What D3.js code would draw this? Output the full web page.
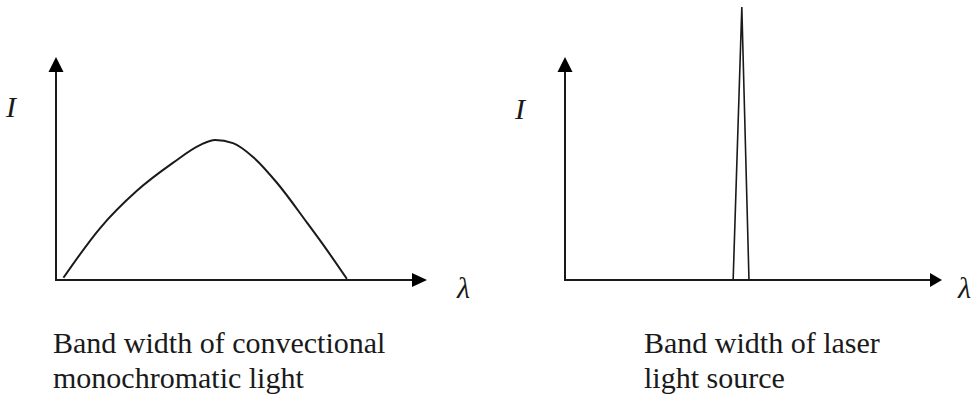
<!DOCTYPE html>
<html><head><meta charset="utf-8">
<script src="https://cdn.jsdelivr.net/npm/d3@7"></script>
<style>html,body{margin:0;padding:0;background:#fff;}svg{display:block;}</style>
</head><body>
<svg id="c" width="980" height="395"></svg>
<script>
// Left panel: conventional monochromatic light (relative wavelength, relative intensity)
const broadLambda = [2, 11.9, 21.8, 31.5, 38.8, 42.9, 47.7, 53.1, 59.6, 67.7, 73.0, 78.4];
const broadIntensity = [1, 23.3, 40.0, 52.5, 60.5, 62.8, 61.4, 55.2, 43.5, 25.6, 13.5, 0.5];
// Right panel: laser line (narrow spike)
const laserLambda = [44.6, 46.9, 48.8];
const laserIntensity = [0, 122.4, 0];
const captionsLeft = ["Band width of convectional", "monochromatic light"];
const captionsRight = ["Band width of laser", "light source"];
const yLabel = "I";
const xLabel = "\u03bb";

const svg = d3.select("#c");
const ink = "#1a1a1a";
const serif = "Liberation Serif";

function panel(opt) {
  const x = d3.scaleLinear().domain([0, 100]).range([opt.x0, opt.x1]);
  const y = d3.scaleLinear().domain([0, 100]).range([280, 57]);
  const g = svg.append("g");
  g.append("line").attr("x1", x(0)).attr("x2", x(100) - opt.xArrow + 2)
    .attr("y1", y(0)).attr("y2", y(0)).attr("stroke", ink).attr("stroke-width", 2);
  g.append("line").attr("x1", x(0)).attr("x2", x(0))
    .attr("y1", y(0) + 1).attr("y2", y(100) + 13).attr("stroke", ink).attr("stroke-width", 2);
  g.append("path").attr("fill", "#000")
    .attr("d", `M${x(100)},${y(0)} L${x(100) - opt.xArrow},${y(0) - 7} L${x(100) - opt.xArrow},${y(0) + 7} Z`);
  g.append("path").attr("fill", "#000")
    .attr("d", `M${x(0)},${y(100)} L${x(0) - 7.5},${y(100) + 15} L${x(0) + 7.5},${y(100) + 15} Z`);
  const pts = opt.lx.map((d, i) => [d, opt.ly[i]]);
  const line = d3.line().x(d => x(d[0])).y(d => y(d[1])).curve(opt.curve);
  g.append("path").datum(pts).attr("d", line).attr("fill", "none")
    .attr("stroke", ink).attr("stroke-width", opt.sw).attr("stroke-linejoin", "miter");
  g.append("text").attr("x", opt.ix).attr("y", opt.iy).text(yLabel)
    .style("font-family", serif).style("font-style", "italic").style("font-size", "30px").attr("fill", ink);
  g.append("text").attr("x", opt.lamx).attr("y", 298).text(xLabel)
    .style("font-family", serif).style("font-style", "italic").style("font-size", "30px").attr("fill", ink);
  opt.caps.forEach((t, i) => {
    g.append("text").attr("x", opt.cx).attr("y", 353 + i * 35).text(t)
      .style("font-family", serif).style("font-size", "30px").attr("fill", ink);
  });
}

panel({x0: 56, x1: 427, xArrow: 15, lx: broadLambda, ly: broadIntensity,
  curve: d3.curveMonotoneX, sw: 2, ix: 6, iy: 117, lamx: 457, caps: captionsLeft, cx: 53});
panel({x0: 565, x1: 942, xArrow: 12, lx: laserLambda, ly: laserIntensity,
  curve: d3.curveLinear, sw: 1.6, ix: 515, iy: 119, lamx: 958, caps: captionsRight, cx: 644});
</script>
</body></html>
